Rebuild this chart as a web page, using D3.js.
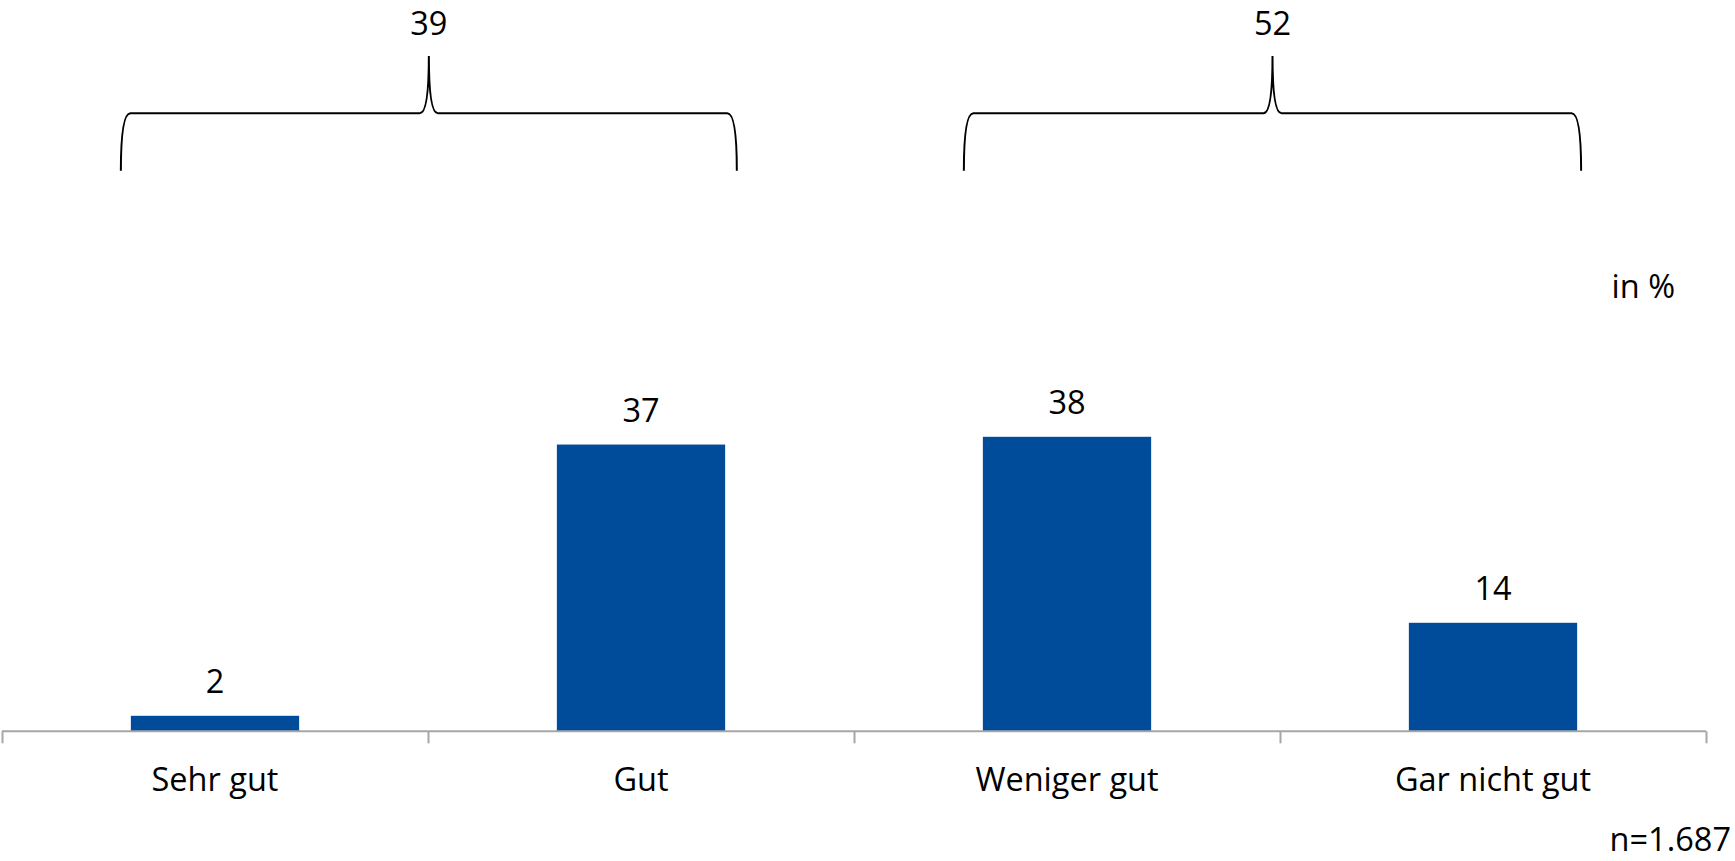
<!DOCTYPE html>
<html>
<head>
<meta charset="utf-8">
<script src="https://cdn.jsdelivr.net/npm/d3@7"></script>
<style>
  html, body { margin: 0; padding: 0; background: #fff; }
  svg { display: block; }
  text { font-family: "Open Sans", "Noto Sans", sans-serif; fill: #000; }
</style>
</head>
<body>
<svg id="chart" width="1735" height="861"></svg>
<script>
const categories = ["Sehr gut", "Gut", "Weniger gut", "Gar nicht gut"];
const values = [2, 37, 38, 14];
const groupLabels = ["39", "52"];
const groupStarts = ["Sehr gut", "Weniger gut"];
const groupEnds = ["Gut", "Gar nicht gut"];
const unitLabel = "in %";
const sampleLabel = "n=1.687";

const svg = d3.select("#chart");

const axisY = 731.3;
const x = d3.scaleBand().domain(categories).range([2, 1706]).paddingInner(0.605).paddingOuter(0.3025);
const y = d3.scaleLinear().domain([0, 40]).range([axisY, axisY - 310]);

const fontSize = 32.5;

// bars
svg.append("g").selectAll("rect").data(categories).join("rect")
  .attr("x", d => x(d))
  .attr("y", (d, i) => y(values[i]))
  .attr("width", x.bandwidth())
  .attr("height", (d, i) => axisY - y(values[i]))
  .attr("fill", "#004C9A");

// value labels
svg.append("g").selectAll("text").data(categories).join("text")
  .attr("x", d => x(d) + x.bandwidth() / 2)
  .attr("y", (d, i) => y(values[i]) - 23)
  .attr("text-anchor", "middle")
  .attr("font-size", fontSize)
  .text((d, i) => values[i]);

// axis
const axisG = svg.append("g").attr("transform", `translate(0,${axisY})`);
const xb = d3.scaleLinear().domain([0, categories.length]).range([2, 1706]);
const axis = d3.axisBottom(xb).tickValues(d3.range(categories.length + 1)).tickSize(12).tickFormat("");
axisG.call(axis);
axisG.select(".domain").attr("stroke", "#A6A6A6").attr("stroke-width", 2).attr("d", `M2,0H1706`);
axisG.selectAll(".tick line").attr("stroke", "#A6A6A6").attr("stroke-width", 2);

// category labels
svg.append("g").selectAll("text").data(categories).join("text")
  .attr("x", d => x(d) + x.bandwidth() / 2)
  .attr("y", 790.5)
  .attr("text-anchor", "middle")
  .attr("font-size", fontSize)
  .text(d => d);

// braces
const braceTop = 113.3, braceBottom = 170.7, peakY = 56, labelY = 35;
function bracePath(x0, x1) {
  const xm = (x0 + x1) / 2;
  const c = 9.5;
  const p = 9;
  return [
    `M${x0},${braceBottom}`,
    `C${x0},${braceTop + 25} ${x0 + 2},${braceTop} ${x0 + c},${braceTop}`,
    `L${xm - p},${braceTop}`,
    `C${xm - 3},${braceTop} ${xm},${braceTop - 20} ${xm},${peakY}`,
    `C${xm},${braceTop - 20} ${xm + 3},${braceTop} ${xm + p},${braceTop}`,
    `L${x1 - c},${braceTop}`,
    `C${x1 - 2},${braceTop} ${x1},${braceTop + 25} ${x1},${braceBottom}`
  ].join(" ");
}
const braceG = svg.append("g");
groupLabels.forEach((lab, i) => {
  const x0 = x(groupStarts[i]) - 10 - (i === 1 ? 9 : 0);
  const x1 = x(groupEnds[i]) + x.bandwidth() + (i === 1 ? 4 : 11.7);
  braceG.append("path")
    .attr("d", bracePath(x0, x1))
    .attr("fill", "none")
    .attr("stroke", "#000")
    .attr("stroke-width", 2);
  braceG.append("text")
    .attr("x", (x0 + x1) / 2)
    .attr("y", labelY)
    .attr("text-anchor", "middle")
    .attr("font-size", fontSize)
    .text(lab);
});

// unit and sample labels
svg.append("text").attr("x", 1675).attr("y", 297.7).attr("text-anchor", "end")
  .attr("font-size", fontSize).text(unitLabel);
svg.append("text").attr("x", 1731).attr("y", 851).attr("text-anchor", "end")
  .attr("font-size", fontSize).text(sampleLabel);
</script>
</body>
</html>
